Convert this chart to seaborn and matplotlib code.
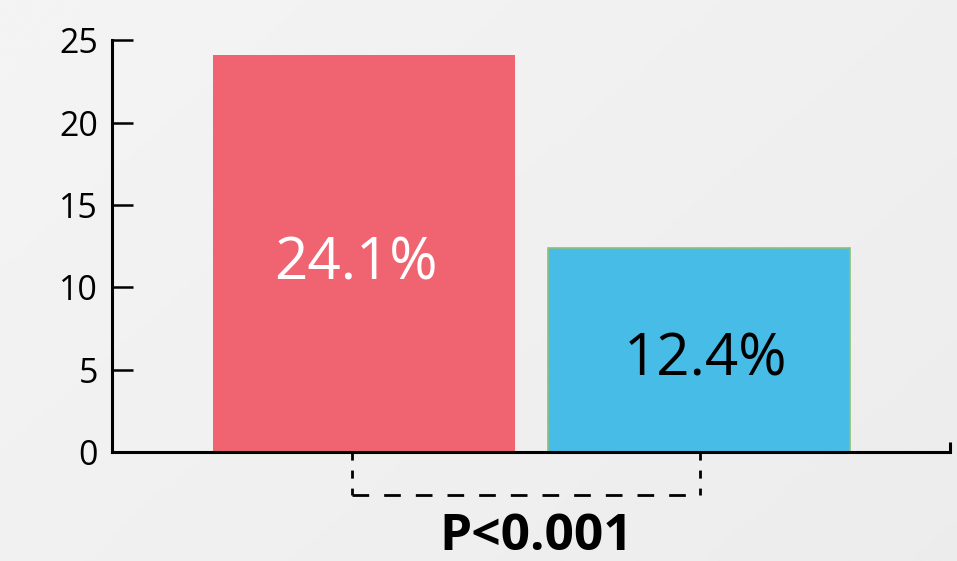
import numpy as np
import pandas as pd
import matplotlib.pyplot as plt
import seaborn as sns

# data
groups = ["A", "B"]
rates = [24.1, 12.4]
labels = ["24.1%", "12.4%"]
label_colors = ["white", "black"]
bar_colors = ["#ef6470", "#47bce6"]
p_text = "P<0.001"
yticks = [0, 5, 10, 15, 20, 25]

df = pd.DataFrame({"group": groups, "rate": rates})

sns.set_style("ticks")
plt.rcParams["font.family"] = ["Open Sans", "DejaVu Sans"]

fig = plt.figure(figsize=(9.57, 5.61), dpi=100)

# soft grey gradient background
bg = fig.add_axes([0, 0, 1, 1], zorder=-10)
gx, gy = np.meshgrid(np.linspace(0, 1, 200), np.linspace(0, 1, 200))
grad = 0.955 - 0.03 * (gx * 0.6 + gy * 0.4)
bg.imshow(grad, cmap="gray", vmin=0, vmax=1, aspect="auto", extent=[0, 1, 0, 1])
bg.axis("off")

ax = fig.add_axes([0.117, 0.194, 0.876, 0.734])
ax.patch.set_alpha(0)

sns.barplot(data=df, x="group", y="rate", hue="group", palette=bar_colors,
            width=0.9, legend=False, ax=ax, saturation=1)
ax.patches[0].set_edgecolor("none")
ax.patches[1].set_edgecolor("#8cbf7c")
ax.patches[1].set_linewidth(1.2)

ax.set_xlim(-0.752, 1.749)
ax.set_ylim(0, 25)
ax.set_yticks(yticks)
ax.set_xticks([])
ax.set_xlabel("")
ax.set_ylabel("")
ax.tick_params(axis="y", direction="in", length=15, width=1.8, pad=10,
               labelsize=24.5, colors="black")
for s in ["top", "right"]:
    ax.spines[s].set_visible(False)
for s in ["left", "bottom"]:
    ax.spines[s].set_linewidth(2.2)
    ax.spines[s].set_color("black")

# small up-tick at the right end of the x axis
ax.plot([1.749, 1.749], [0, 0.6], color="black", lw=2.2, clip_on=False,
        solid_capstyle="butt")

# value labels
offsets = [(-0.025, 11.4), (0.02, 5.6)]
for i, (lab, col) in enumerate(zip(labels, label_colors)):
    ax.text(i + offsets[i][0], offsets[i][1], lab, ha="center", va="center",
            fontsize=42, color=col)

# dashed bracket under the bars
bx0, bx1, by = -0.036, 1.003, -2.6
for bx in (bx0, bx1):
    ax.plot([bx, bx], [0, by], color="black", lw=2, ls=(0, (2.9, 3.6)),
            clip_on=False)
ax.plot([bx0, bx1], [by, by], color="black", lw=2, ls=(0, (6, 5.4)),
        clip_on=False)

fig.text(536 / 957, 1 - 537 / 561, p_text, ha="center", va="center",
         fontsize=37, fontweight="bold", color="black")

fig.savefig("out.png", dpi=100)
